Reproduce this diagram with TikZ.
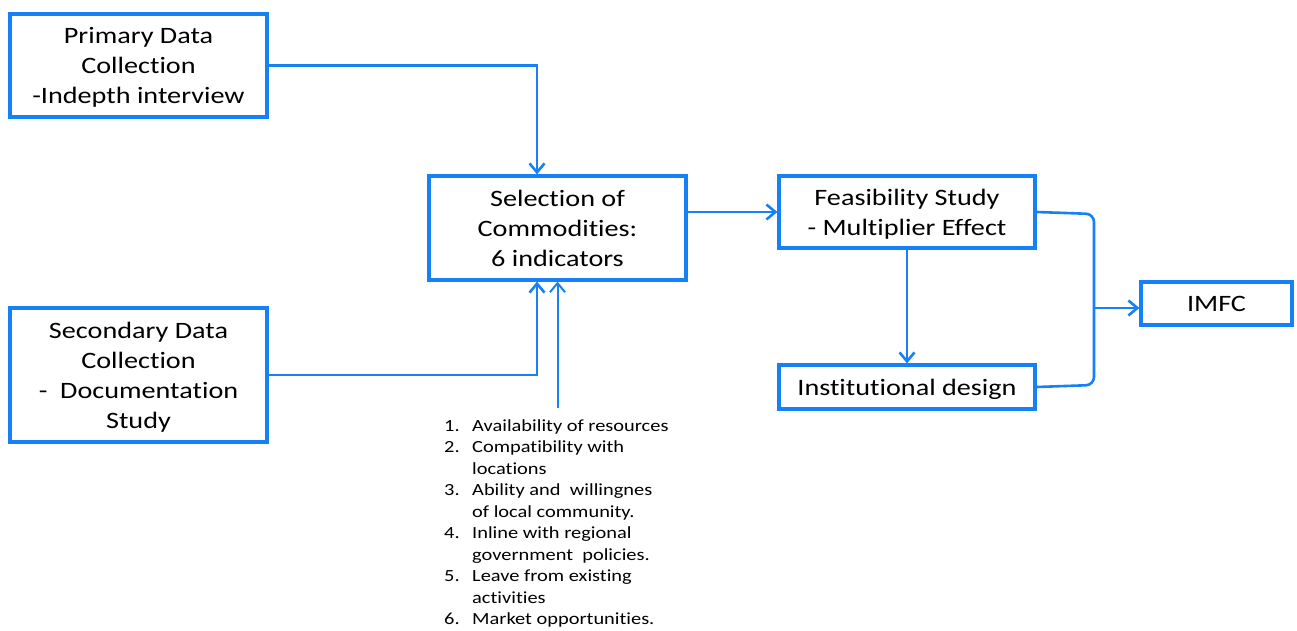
\documentclass[tikz,border=0pt]{standalone}
\usepackage{fontspec}
\setmainfont{Carlito}[FakeStretch=1.2,Ligatures=NoCommon]
\usetikzlibrary{arrows.meta}
\definecolor{lblue}{HTML}{1681F4}
\newcommand{\bxt}[1]{\raisebox{-2pt}[\height][\depth]{\begin{tabular}{@{}c@{}}#1\end{tabular}}}
\tikzset{
  box/.style={draw=lblue, line width=3.2pt, fill=white, align=center, inner sep=0pt,
    font=\fontsize{23.5}{30}\selectfont},
  conn/.style={draw=lblue, line width=2.6pt},
  arr/.style={conn, -{Straight Barb[length=9pt,width=15pt,line width=2.6pt]}},
  thinarr/.style={draw=lblue, line width=2pt, -{Straight Barb[length=9pt,width=15pt,line width=2pt]}},
}
\begin{document}
\begin{tikzpicture}[x=1pt,y=-1pt]
\useasboundingbox (0,0) rectangle (1297,631);
\node[box, minimum width=257pt, minimum height=103pt] (prim) at (138.5,65.5) {\bxt{Primary Data\\Collection\\-Indepth interview}};
\node[box, minimum width=257pt, minimum height=134pt] (sec) at (138.5,375) {\bxt{Secondary Data\\Collection\\-~ Documentation\\Study}};
\node[box, minimum width=257pt, minimum height=104pt] (sel) at (557.5,228) {\bxt{Selection of\\Commodities:\\6 indicators}};
\node[box, minimum width=256pt, minimum height=72pt] (feas) at (907,212) {\bxt{Feasibility Study\\- Multiplier Effect}};
\node[box, minimum width=256pt, minimum height=44pt] (inst) at (907,387) {\bxt{Institutional design}};
\node[box, minimum width=151pt, minimum height=43pt] (imfc) at (1216.5,303.5) {\bxt{IMFC}};
\node[anchor=north west, inner sep=0pt, font=\fontsize{17}{21.5}\selectfont] (list) at (444,416) {%
\begin{tabular}{@{}p{28pt}@{}l@{}}
1. & Availability of resources\\
2. & Compatibility with\\
   & locations\\
3. & Ability and~ willingnes\\
   & of local community.\\
4. & Inline with regional\\
   & government~ policies.\\
5. & Leave from existing\\
   & activities\\
6. & Market opportunities.
\end{tabular}};
\coordinate (lt) at (557.5,408);
\coordinate (pin) at ([xshift=-20.5pt]sel.north);
\coordinate (sin) at ([xshift=-20.5pt]sel.south);
\coordinate (j) at (1094,308);
\draw[arr] (prim.east) -| (pin);
\draw[arr] (sec.east) -| (sin);
\draw[thinarr] (lt) -- (sel.south);
\draw[arr] (feas.west -| sel.east) -- (feas.west);
\draw[arr] (feas.south) -- (inst.north);
\draw[conn, rounded corners=8pt] (feas.east) -- (1094,214) -- (1094,385) -- (inst.east);
\draw[arr] (j) -- (j -| imfc.west);
\end{tikzpicture}
\end{document}
